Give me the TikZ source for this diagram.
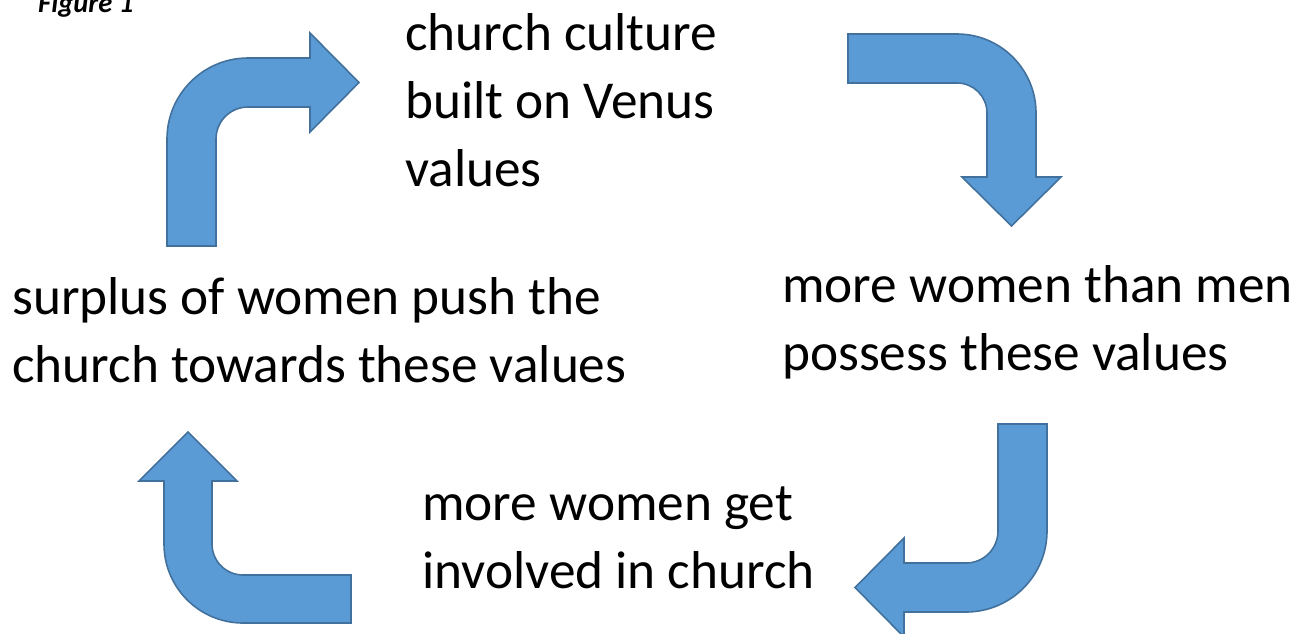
\documentclass[tikz,border=0pt]{standalone}
\usepackage{fontspec}
\setmainfont{Carlito}
\definecolor{arrfill}{HTML}{5B9BD5}
\definecolor{arrline}{HTML}{41719C}
\tikzset{
  bentarrow/.style={fill=arrfill, draw=arrline, line width=1.6pt, line join=miter},
  label/.style={anchor=base west, inner sep=0pt, align=left, font=\fontsize{53.3}{68}\selectfont},
  fig/.style={anchor=base west, inner sep=0pt, font=\fontsize{28.5}{32}\selectfont\bfseries\itshape}
}
\begin{document}
\begin{tikzpicture}[x=1pt,y=-1pt]
\useasboundingbox (0,0) rectangle (1308,633);
\clip (0,0) rectangle (1308,633);
% Figure label
\node[fig] (figlabel) at (38,12) {Figure 1};
% texts (anchor = baseline of the last line)
\node[label] (top) at (405,186) {church culture\\built on Venus\\values};
\node[label] (right) at (782,370) {more women than men\\possess these values};
\node[label] (bottom) at (422,588) {more women get\\involved in church};
\node[label] (left) at (12,382) {surplus of women push the\\church towards these values};
% arrow 1 (up then right)
\path[bentarrow] (167,246) -- (167,139) .. controls +(0,-44.7) and +(-44.7,0) .. (248,58)
  -- (310,58) -- (310,33) -- (359,82.5) -- (310,132) -- (310,107) -- (248,107)
  .. controls +(-17.7,0) and +(0,-17.7) .. (216,139) -- (216,246) -- cycle;
% arrow 2 (right then down)
\path[bentarrow] (848,34) -- (957,34) .. controls +(43.6,0) and +(0,-43.6) .. (1036,113)
  -- (1036,177) -- (1061,177) -- (1011.5,226) -- (962,177) -- (987,177) -- (987,113)
  .. controls +(0,-16.6) and +(16.6,0) .. (957,83) -- (848,83) -- cycle;
% arrow 3 (down then left)
\path[bentarrow] (998,424) -- (1047,424) -- (1047,531) .. controls +(0,44.7) and +(44.7,0) .. (966,612)
  -- (904,612) -- (904,637) -- (855,587.5) -- (904,538) -- (904,563) -- (966,563)
  .. controls +(17.7,0) and +(0,17.7) .. (998,531) -- cycle;
% arrow 4 (left then up)
\path[bentarrow] (351,575) -- (243,575) .. controls +(-17.1,0) and +(0,17.1) .. (212,544)
  -- (212,481) -- (237,481) -- (188,432) -- (139,481) -- (164,481) -- (164,544)
  .. controls +(0,43.6) and +(-43.6,0) .. (243,623) -- (351,623) -- cycle;
\end{tikzpicture}
\end{document}
